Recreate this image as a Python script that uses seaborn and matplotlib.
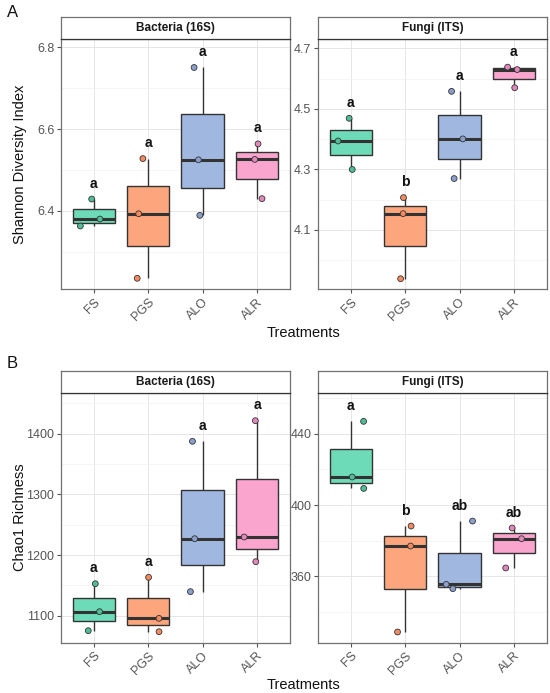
import numpy as np
import pandas as pd
import matplotlib
matplotlib.use("Agg")
import matplotlib.pyplot as plt
from matplotlib.ticker import FixedLocator
import seaborn as sns

treatments = ["FS", "PGS", "ALO", "ALR"]

# Shannon diversity, three samples per treatment
shannon_bact = {"FS": [6.429, 6.380, 6.363], "PGS": [6.528, 6.393, 6.235],
                "ALO": [6.751, 6.525, 6.389], "ALR": [6.564, 6.526, 6.430]}
shannon_fungi = {"FS": [4.469, 4.394, 4.300], "PGS": [4.207, 4.154, 3.939],
                 "ALO": [4.558, 4.401, 4.270], "ALR": [4.638, 4.630, 4.570]}
# Chao1 richness
chao_bact = {"FS": [1152.7, 1106.6, 1075.3], "PGS": [1163.2, 1095.6, 1073.6],
             "ALO": [1387.4, 1226.9, 1139.6], "ALR": [1421.4, 1229.7, 1189.0]}
chao_fungi = {"FS": [446.9, 415.7, 409.3], "PGS": [388.2, 377.0, 328.8],
              "ALO": [391.0, 355.5, 353.1], "ALR": [387.1, 381.1, 364.7]}

letters_shannon_bact = ["a", "a", "a", "a"]
letters_shannon_fungi = ["a", "b", "a", "a"]
letters_chao_bact = ["a", "a", "a", "a"]
letters_chao_fungi = ["a", "b", "ab", "ab"]

# y ticks shown in each panel
ticks_shannon_bact = [6.4, 6.6, 6.8]
ticks_shannon_fungi = [4.1, 4.3, 4.5, 4.7]
ticks_chao_bact = [1100, 1200, 1300, 1400]
ticks_chao_fungi = [360, 400, 440]

box_colors = ["#6EDBB8", "#FDA57D", "#A0B8E0", "#FAA5CD"]
point_colors = ["#4DBE98", "#F58A60", "#8A9FCC", "#E487BD"]

FONT = ["Liberation Sans", "DejaVu Sans"]
sns.set_style("white")
plt.rcParams["font.family"] = FONT


def to_frame(d):
    rows = []
    for t in treatments:
        for v in d[t]:
            rows.append({"Treatment": t, "value": v})
    return pd.DataFrame(rows)


def panel(fig, rect, strip_rect, data, letters, title, ylim, ticks, seed):
    df = to_frame(data)
    ax = fig.add_axes(rect)
    ax.set_facecolor("white")
    sns.boxplot(data=df, x="Treatment", y="value", hue="Treatment", order=treatments,
                hue_order=treatments, palette=box_colors, saturation=1, width=0.78,
                showcaps=False, showfliers=False, whis=1.5, legend=False, ax=ax,
                boxprops=dict(edgecolor="#333333", linewidth=1.0),
                whiskerprops=dict(color="#333333", linewidth=1.0),
                medianprops=dict(color="#333333", linewidth=2.2), zorder=2)
    np.random.seed(seed)
    sns.stripplot(data=df, x="Treatment", y="value", hue="Treatment", order=treatments,
                  hue_order=treatments, palette=point_colors, jitter=0.25, size=4.2,
                  linewidth=0.6, edgecolor="#333333", legend=False, ax=ax, zorder=3)
    ax.set_xlim(-0.6, 3.6)
    ax.set_ylim(*ylim)
    step = ticks[1] - ticks[0]
    minors = [ticks[0] - step / 2] + [t + step / 2 for t in ticks]
    ax.yaxis.set_major_locator(FixedLocator(ticks))
    ax.yaxis.set_minor_locator(FixedLocator(minors))
    ax.grid(True, which="major", color="#E6E6E6", linewidth=0.7, zorder=0)
    ax.grid(True, which="minor", axis="y", color="#F2F2F2", linewidth=0.5, zorder=0)
    ax.set_axisbelow(True)
    for s in ax.spines.values():
        s.set_color("#707070")
        s.set_linewidth(0.9)
    ax.tick_params(axis="both", which="major", length=3, width=0.8, color="#555555",
                   labelcolor="#555555", labelsize=9, direction="out",
                   left=True, bottom=True, pad=2)
    ax.tick_params(axis="y", which="minor", length=0)
    for lab in ax.get_xticklabels():
        lab.set_rotation(45)
        lab.set_ha("right")
        lab.set_rotation_mode("anchor")
    ax.set_xlabel("")
    ax.set_ylabel("")
    rng = ylim[1] - ylim[0]
    for i, t in enumerate(treatments):
        ax.text(i, max(data[t]) + 0.062 * rng, letters[i], ha="center", va="center",
                fontsize=10, fontweight="bold", color="#111111", family=FONT)
    sax = fig.add_axes(strip_rect)
    sax.set_xticks([])
    sax.set_yticks([])
    sax.set_facecolor("white")
    for s in sax.spines.values():
        s.set_color("#707070")
        s.set_linewidth(0.9)
    sax.spines["bottom"].set_color("#333333")
    sax.text(0.5, 0.5, title, ha="center", va="center", fontsize=8.5,
             fontweight="bold", color="#1A1A1A", transform=sax.transAxes, family=FONT)
    return ax


fig = plt.figure(figsize=(5.5, 6.93), dpi=100)

lx, rx, w = 0.1115, 0.5787, 0.415
h = 0.3608
ya, yb = 0.5825, 0.0726
sa, sb, sh = 0.9433, 0.4333, 0.0317

panel(fig, [lx, ya, w, h], [lx, sa, w, sh], shannon_bact, letters_shannon_bact,
      "Bacteria (16S)", (6.208, 6.82), ticks_shannon_bact, 1)
panel(fig, [rx, ya, w, h], [rx, sa, w, sh], shannon_fungi, letters_shannon_fungi,
      "Fungi (ITS)", (3.904, 4.73), ticks_shannon_fungi, 2)
panel(fig, [lx, yb, w, h], [lx, sb, w, sh], chao_bact, letters_chao_bact,
      "Bacteria (16S)", (1055.5, 1467.6), ticks_chao_bact, 3)
panel(fig, [rx, yb, w, h], [rx, sb, w, sh], chao_fungi, letters_chao_fungi,
      "Fungi (ITS)", (322.8, 463.0), ticks_chao_fungi, 4)

fig.text(0.037, ya + h / 2, "Shannon Diversity Index", rotation=90, ha="center",
         va="center", fontsize=10.5, color="#111111")
fig.text(0.037, yb + h / 2, "Chao1 Richness", rotation=90, ha="center",
         va="center", fontsize=10.5, color="#111111")
fig.text(0.552, 0.519, "Treatments", ha="center", va="center", fontsize=10.5,
         color="#111111")
fig.text(0.552, 0.0115, "Treatments", ha="center", va="center", fontsize=10.5,
         color="#111111")
fig.text(0.022, 0.982, "A", ha="center", va="center", fontsize=12, color="#111111")
fig.text(0.022, 0.476, "B", ha="center", va="center", fontsize=12, color="#111111")

fig.savefig("out.png", dpi=100)
